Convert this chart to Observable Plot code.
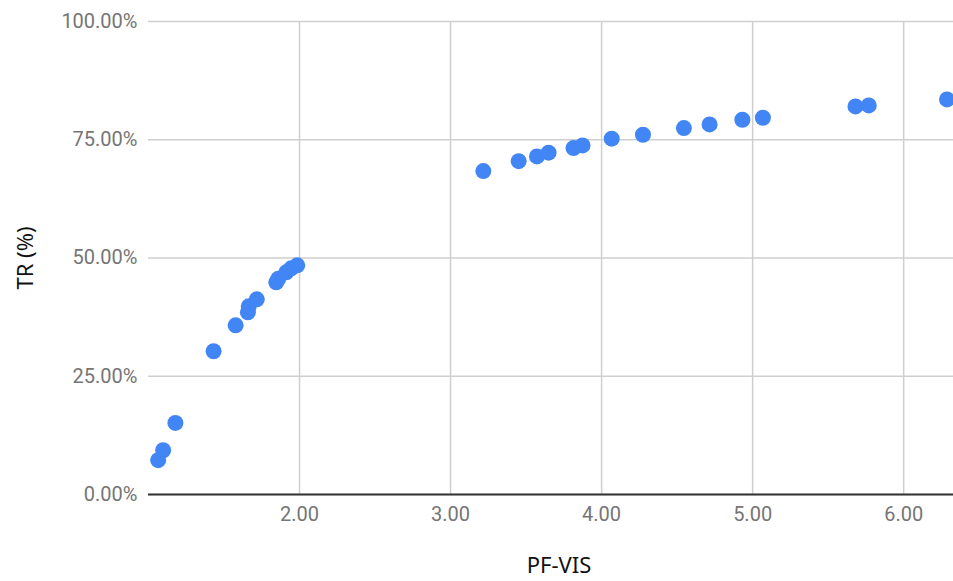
<!DOCTYPE html>
<html>
<head>
<meta charset="utf-8">
<script src="https://cdn.jsdelivr.net/npm/d3@7"></script>
<script src="https://cdn.jsdelivr.net/npm/@observablehq/plot@0.6"></script>
<style>
  html, body { margin: 0; padding: 0; background: white; }
  #chart svg { display: block; }
</style>
</head>
<body>
<div id="chart"></div>
<script>
const pfVis = [1.064, 1.097, 1.178, 1.431, 1.577, 1.658, 1.664, 1.717, 1.846, 1.859, 1.912, 1.945, 1.985,
               3.217, 3.451, 3.572, 3.649, 3.814, 3.874, 4.067, 4.274, 4.545, 4.715, 4.932, 5.068, 5.681, 5.769, 6.287];
const trPct = [7.25, 9.36, 15.13, 30.28, 35.77, 38.52, 39.78, 41.26, 44.86, 45.6, 46.97, 47.81, 48.45,
               68.37, 70.48, 71.48, 72.26, 73.23, 73.8, 75.22, 76.06, 77.46, 78.24, 79.23, 79.65, 82.04, 82.25, 83.52];
const xTicks = [2, 3, 4, 5, 6];
const yTicks = [0, 25, 50, 75, 100];
const xTitle = "PF-VIS";
const yTitle = "TR (%)";

const points = pfVis.map((x, i) => ({x, y: trPct[i]}));

const chart = Plot.plot({
  width: 953,
  height: 581,
  marginLeft: 148,
  marginRight: 0,
  marginTop: 21,
  marginBottom: 87,
  style: {background: "white", fontFamily: "Roboto", fontSize: "20px"},
  x: {domain: [1.0, 6.33], axis: null},
  y: {domain: [0, 100], axis: null},
  marks: [
    Plot.gridX(xTicks, {stroke: "#cfcfcf", strokeOpacity: 1, strokeWidth: 1.5}),
    Plot.gridY(yTicks, {stroke: "#cfcfcf", strokeOpacity: 1, strokeWidth: 1.5}),
    Plot.ruleY([0], {stroke: "#333333", strokeWidth: 2}),
    Plot.axisX(xTicks, {tickFormat: d => d.toFixed(2), tickSize: 0, tickPadding: 12, color: "#757575", fontSize: 20, fontFamily: "Roboto", label: null}),
    Plot.axisY(yTicks, {tickFormat: d => d.toFixed(2) + "%", tickSize: 0, tickPadding: 11, color: "#757575", fontSize: 20, fontFamily: "Roboto", label: null}),
    Plot.dot(points, {x: "x", y: "y", r: 8, fill: "#4285F4", stroke: "none"}),
    Plot.text([xTitle], {frameAnchor: "bottom", dy: 71, dx: 8, textAnchor: "middle", lineAnchor: "middle", fontSize: 22, fontFamily: "Noto Sans", fill: "#111"}),
    Plot.text([yTitle], {frameAnchor: "left", dx: -123, rotate: -90, textAnchor: "middle", lineAnchor: "middle", fontSize: 22, fontFamily: "Noto Sans", fill: "#111"})
  ]
});
document.getElementById("chart").appendChild(chart);
</script>
</body>
</html>
